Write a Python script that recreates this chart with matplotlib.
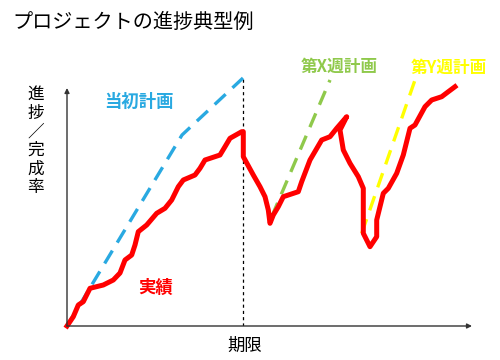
import matplotlib
matplotlib.use("Agg")
import matplotlib.pyplot as plt

plt.rcParams['font.family'] = ['Noto Sans CJK JP', 'DejaVu Sans']

# Data (period on x, progress on y)
actual_x = [0, 6.3, 11.3, 16.3, 23, 36.3, 46.3, 53, 58, 64.7, 68, 71.3, 79.7, 89.7, 98, 104.7,
            111.3, 116.3, 128, 133, 138, 153, 158, 163, 174.7, 176.3, 176.3, 186.3, 193, 198,
            201.3, 203, 206.3, 211.3, 216.3, 231.3, 234.7, 243, 254.7, 263, 269.7, 279.7, 273,
            276.3, 283, 291.3, 296.3, 296.3, 303, 309.7, 309.7, 316.3, 321.3, 329.7, 336.3, 343,
            348, 358, 364.7, 374.7, 381.3, 388]
actual_y = [0, 9.3, 21, 24.3, 37.7, 41, 46, 53, 66, 71, 81, 94.3, 101, 112.7, 117.7, 126,
            139.3, 146, 151, 157.7, 166, 171, 179.3, 187.7, 194.3, 194.3, 169.3, 151, 139.3, 129.3,
            116, 102.7, 111, 119.3, 129.3, 134.3, 144.3, 166, 186, 189.3, 197.7, 209.3, 196,
            176, 162.7, 149.3, 137.7, 92.7, 79.3, 89.3, 106, 132.7, 137.7, 152.7, 171, 197.7,
            201, 219.3, 226, 229.3, 234.3, 239.3]
plan_x = [0, 115, 176]
plan_y = [0, 191, 248]
planX_x = [204.7, 263]
planX_y = [109.3, 246]
planY_x = [294.7, 348]
planY_y = [92.7, 246]
deadline_x = 176
axis_end_x = 405
axis_end_y = 238

fig = plt.figure(figsize=(5, 3.6), dpi=100)
ax = fig.add_axes([67/500, 34/360, 420/500, 255/360])
ax.set_xlim(0, 420)
ax.set_ylim(0, 255)
ax.axis('off')

# axes arrows
ax.annotate('', xy=(axis_end_x, 0), xytext=(0, 0),
            arrowprops=dict(arrowstyle='-|>', color='#333333', lw=1.0, mutation_scale=7,
                            shrinkA=0, shrinkB=0), annotation_clip=False)
ax.annotate('', xy=(0, axis_end_y), xytext=(0, 0),
            arrowprops=dict(arrowstyle='-|>', color='#333333', lw=1.0, mutation_scale=7,
                            shrinkA=0, shrinkB=0), annotation_clip=False)

ax.plot([deadline_x, deadline_x], [0, plan_y[-1]], color='black', lw=0.9, ls=(0, (2.5, 2.5)))

ax.plot(plan_x, plan_y, color='#29A9E1', lw=2.4, ls=(0, (4.5, 2.8)), clip_on=False)
ax.plot(planX_x, planX_y, color='#8FC94B', lw=2.4, ls=(0, (4.5, 2.8)), clip_on=False)
ax.plot(planY_x, planY_y, color='#FFFF00', lw=2.4, ls=(0, (4.5, 2.8)), clip_on=False)
ax.plot(actual_x, actual_y, color='#FF0000', lw=3.6, solid_joinstyle='round', clip_on=False)

ax.text(72, 224, '当初計画', color='#29A9E1', fontsize=12.5, fontweight='bold',
        ha='center', va='center')
ax.text(89, 38, '実績', color='#FF0000', fontsize=12.5, fontweight='bold',
        ha='center', va='center')
ax.text(272, 259, '第X週計画', color='#8FC94B', fontsize=12, fontweight='bold',
        ha='center', va='center', clip_on=False)
ax.text(382, 258, '第Y週計画', color='#FFFF00', fontsize=12, fontweight='bold',
        ha='center', va='center', clip_on=False)

fig.text(12/500, 1 - 22/360, 'プロジェクトの進捗典型例', fontsize=14.5,
         ha='left', va='center', color='black')
fig.text(245/500, 1 - 346/360, '期限', fontsize=12.5, ha='center', va='center', color='black')
fig.text(36/500, 1 - 141/360, '進\n捗\n／\n完\n成\n率', fontsize=12, ha='center', va='center',
         color='black', linespacing=1.12)

fig.savefig('out.png', dpi=100)
